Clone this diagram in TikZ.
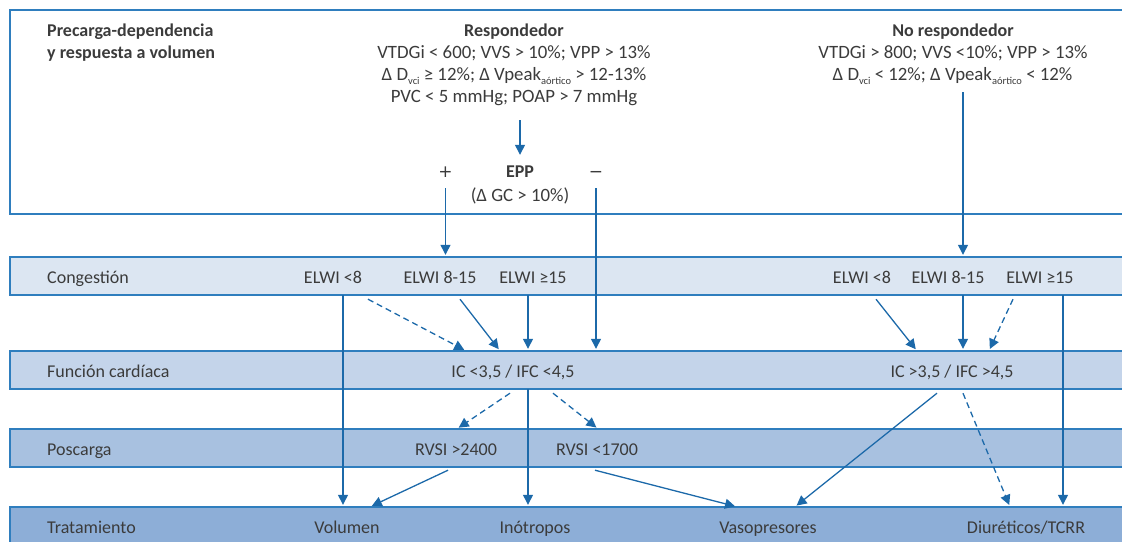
\documentclass[tikz,border=0pt]{standalone}
\usepackage{fontspec}
\setmainfont{Carlito}
\newfontfamily\djv{DejaVu Sans}
\usetikzlibrary{arrows.meta}
\definecolor{edgec}{HTML}{2F7EBE}
\definecolor{arrc}{HTML}{1C69A9}
\definecolor{txtc}{HTML}{3B3B3B}
\definecolor{bandA}{HTML}{DCE6F2}
\definecolor{bandB}{HTML}{C4D4EA}
\definecolor{bandC}{HTML}{A8C1E0}
\definecolor{bandD}{HTML}{8DAED7}
\newcommand\mytsz{\fontsize{18}{22}\selectfont}
\newcommand\mytszb{\fontsize{18.8}{22}\selectfont}
\newcommand\mysub[1]{\raisebox{-0.45ex}{\fontsize{10.5}{10}\selectfont #1}}
\begin{document}
\begin{tikzpicture}[x=1pt,y=-1pt,
  tl/.style={anchor=base,inner sep=0pt,text height=13pt,text depth=3pt,text=txtc,font=\mytszb},
  bt/.style={inner sep=0pt,text height=17pt,text depth=3pt,minimum height=38pt,text=txtc,font=\mytsz},
  rowlbl/.style={bt,anchor=west},
  frame/.style={draw=edgec,line width=1.6pt},
  arr/.style={draw=arrc,line width=1.3pt,-{Triangle[length=10pt,width=10pt]},shorten >=2pt},
  dsh/.style={arr,dash pattern=on 6pt off 4pt}]
\useasboundingbox (0,0) rectangle (1122,541);
\clip (0,0) rectangle (1122,541);
% frames and bands
\draw[frame] (10,10) rectangle (1140,214);
\draw[frame,fill=bandA] (10,257) rectangle (1140,295);
\draw[frame,fill=bandB] (10,351) rectangle (1140,389);
\draw[frame,fill=bandC] (10,429) rectangle (1140,467);
\draw[frame,fill=bandD] (10,507) rectangle (1140,545);
% top texts
\node[tl,anchor=base west,font=\bfseries\mytsz] (pre1) at (47,36.5) {Precarga-dependencia};
\node[tl,anchor=base west,font=\bfseries\mytsz] (pre2) at (47,58.5) {y respuesta a volumen};
\node[tl,font=\bfseries\mytsz] (r0) at (514,36.5) {Respondedor};
\node[tl] (rl1) at (514,58.5) {VTDGi < 600; VVS > 10\%; VPP > 13\%};
\node[tl] (rl2) at (514,80.5) {Δ D\mysub{vci} ≥ 12\%; Δ Vpeak\mysub{aórtico} > 12-13\%};
\node[tl] (rl3) at (514,102.5) {PVC < 5 mmHg; POAP > 7 mmHg};
\node[tl,font=\bfseries\mytsz] (epp) at (520,177) {EPP};
\node[tl] (gc) at (520,201.5) {(Δ GC > 10\%)};
\node[tl,font=\djv\fontsize{17}{17}\selectfont] (plus) at (445.5,177) {+};
\node[tl,font=\djv\fontsize{17}{17}\selectfont] (minus) at (596,177) {−};
\node[tl,font=\bfseries\mytsz] (nr0) at (953,36.5) {No respondedor};
\node[tl] (nl1) at (953,58.5) {VTDGi > 800; VVS <10\%; VPP > 13\%};
\node[tl] (nl2) at (952.5,80.5) {Δ D\mysub{vci} < 12\%; Δ Vpeak\mysub{aórtico} < 12\%};
% band texts
\node[rowlbl] (cong) at (47,276) {Congestión};
\node[rowlbl] (func) at (47,370) {Función cardíaca};
\node[rowlbl] (posc) at (47,448) {Poscarga};
\node[rowlbl] (trat) at (47,526) {Tratamiento};
\node[bt] (e1) at (333,276) {ELWI <8};
\node[bt] (e2) at (440,276) {ELWI 8-15};
\node[bt] (e3) at (533,276) {ELWI ≥15};
\node[bt] (e4) at (862,276) {ELWI <8};
\node[bt] (e5) at (948,276) {ELWI 8-15};
\node[bt] (e6) at (1040,276) {ELWI ≥15};
\node[bt] (f1) at (513,370) {IC <3,5 / IFC <4,5};
\node[bt] (f2) at (952,370) {IC >3,5 / IFC >4,5};
\node[bt] (r1) at (456,448) {RVSI >2400};
\node[bt] (r2) at (597,448) {RVSI <1700};
\node[bt] (vol) at (347,526) {Volumen};
\node[bt] (ino) at (535,526) {Inótropos};
\node[bt] (vaso) at (768,526) {Vasopresores};
\node[bt] (diu) at (1026,526) {Diuréticos/TCRR};
% connectors from top
\draw[arr,shorten <=14.5pt,shorten >=9pt] (rl3.south -| epp.north) -- (epp.north);
\draw[arr,shorten <=8pt] (plus.south) -- (plus.south |- e1.north);
\draw[arr,shorten <=8pt] (minus.south) -- (minus.south |- f1.north);
\draw[arr,shorten <=8.5pt] ([xshift=10.5pt]nl2.south) -- ([xshift=10.5pt]nl2.south |- e5.north);
% congestion -> function / treatment
\draw[arr] ([xshift=10pt]e1.south) -- ([xshift=10pt]e1.south |- vol.north);
\draw[dsh] ([shift={(35,4)}]e1.south) -- ([xshift=-47pt]f1.north);
\draw[arr] ([shift={(20,4)}]e2.south) -- ([xshift=-13pt]f1.north);
\draw[arr] ([xshift=-5pt]e3.south) -- ([xshift=-5pt]e3.south |- f1.north);
\draw[arr] ([shift={(14,4)}]e4.south) -- ([xshift=-35pt]f2.north);
\draw[arr] ([xshift=15pt]e5.south) -- ([xshift=15pt]e5.south |- f2.north);
\draw[dsh] ([shift={(-27,4)}]e6.south) -- ([xshift=37pt]f2.north);
\draw[arr] ([xshift=23pt]e6.south) -- ([xshift=23pt]e6.south |- diu.north);
% function -> afterload / treatment
\draw[dsh] ([shift={(-3,4)}]f1.south) -- ([xshift=1pt]r1.north);
\draw[arr] ([xshift=15pt]f1.south) -- ([xshift=15pt]f1.south |- ino.north);
\draw[dsh] ([shift={(40,4)}]f1.south) -- ([xshift=1pt]r2.north);
\draw[arr] ([shift={(-15,4)}]f2.south) -- ([xshift=27pt]vaso.north);
\draw[dsh] ([shift={(11,4)}]f2.south) -- ([xshift=-16pt]diu.north);
% afterload -> treatment
\draw[arr] ([shift={(-8,3)}]r1.south) -- ([xshift=23pt]vol.north);
\draw[arr] ([shift={(-2,3)}]r2.south) -- ([xshift=-31pt]vaso.north);
\end{tikzpicture}
\end{document}
